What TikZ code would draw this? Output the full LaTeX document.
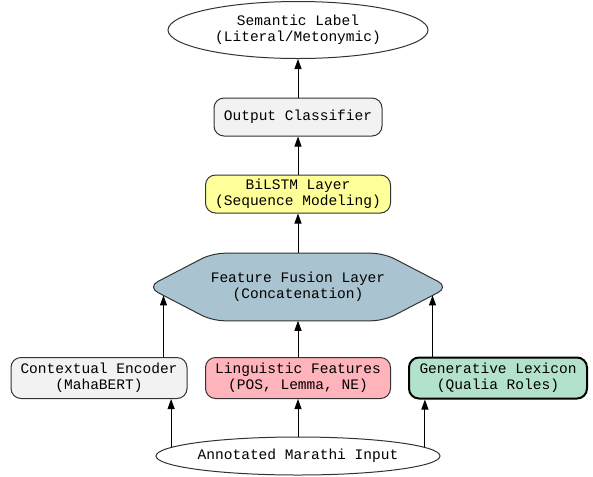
\documentclass[tikz,border=0pt]{standalone}
\usepackage{fontspec}
\setmonofont{Liberation Mono}
\usetikzlibrary{arrows.meta, calc, shapes.geometric, backgrounds}
\definecolor{boxgray}{HTML}{F2F2F2}
\definecolor{lstmyellow}{HTML}{FFFF99}
\definecolor{fuseblue}{HTML}{A9C4D0}
\definecolor{lingpink}{HTML}{FFB3BA}
\definecolor{lexgreen}{HTML}{B3E2CC}
\definecolor{edgegray}{HTML}{333333}

\begin{document}
\begin{tikzpicture}[x=0.75pt, y=-0.75pt, >={Triangle[length=7.5pt, width=5.25pt]},
  every node/.style={font=\ttfamily\fontsize{10.9}{12}\selectfont, align=center, inner sep=0pt},
  blk/.style={draw=edgegray, line width=0.75pt, rounded corners=7.5pt, minimum height=30.75pt},
  oval/.style={draw=edgegray, line width=0.75pt, ellipse, fill=white},
  arrow/.style={->, line width=0.75pt}]
  \useasboundingbox (0,0) rectangle (593,476);
  % Output side
  \node[oval, minimum width=195pt, minimum height=42.75pt] (label) at (298,30)
    {Semantic Label\\(Literal/Metonymic)};
  \node[blk, fill=boxgray, minimum width=126pt, minimum height=28.5pt] (clf) at (298,117)
    {Output Classifier};
  \node[blk, fill=lstmyellow, minimum width=138.75pt, minimum height=28.5pt] (lstm) at (298,194)
    {BiLSTM Layer\\(Sequence Modeling)};
  % Fusion hexagon
  \node[minimum width=225.75pt, minimum height=50.25pt] (fuse) at (298,287)
    {Feature Fusion Layer\\(Concatenation)};
  \coordinate (ftl) at ($(fuse.north west)+(65,0)$);
  \coordinate (ftr) at ($(fuse.north east)+(-65,0)$);
  \coordinate (fbr) at ($(fuse.south east)+(-65,0)$);
  \coordinate (fbl) at ($(fuse.south west)+(65,0)$);
  \begin{pgfonlayer}{background}
    \draw[draw=edgegray, line width=0.75pt, fill=fuseblue, rounded corners=9pt]
      (fuse.west) -- (ftl) -- (ftr) -- (fuse.east) -- (fbr) -- (fbl) -- cycle;
  \end{pgfonlayer}
  \coordinate (fl) at ($(fuse.west)!0.25!(fbl)$);
  \coordinate (fr) at ($(fuse.east)!0.25!(fbr)$);
  % Feature sources
  \node[blk, fill=boxgray, minimum width=132pt] (ctx) at (99,378)
    {Contextual Encoder\\(MahaBERT)};
  \node[blk, fill=lingpink, minimum width=138.75pt] (ling) at (298,378)
    {Linguistic Features\\(POS, Lemma, NE)};
  \node[blk, fill=lexgreen, minimum width=133.5pt, line width=1.5pt, draw=black] (lex) at (498,378)
    {Generative Lexicon\\(Qualia Roles)};
  \node[oval, minimum width=213pt, minimum height=28.5pt] (input) at (298,456)
    {Annotated Marathi Input};
  % Arrows
  \draw[arrow] (input.176) -- (ctx.south -| input.176);
  \draw[arrow] (input.north) -- (ling.south);
  \draw[arrow] (input.4) -- (lex.south -| input.4);
  \draw[arrow] (ctx.north -| fl) -- (fl);
  \draw[arrow] (ling.north) -- (fuse.south);
  \draw[arrow] (lex.north -| fr) -- (fr);
  \draw[arrow] (fuse.north) -- (lstm.south);
  \draw[arrow] (lstm.north) -- (clf.south);
  \draw[arrow] (clf.north) -- (label.south);
\end{tikzpicture}
\end{document}
